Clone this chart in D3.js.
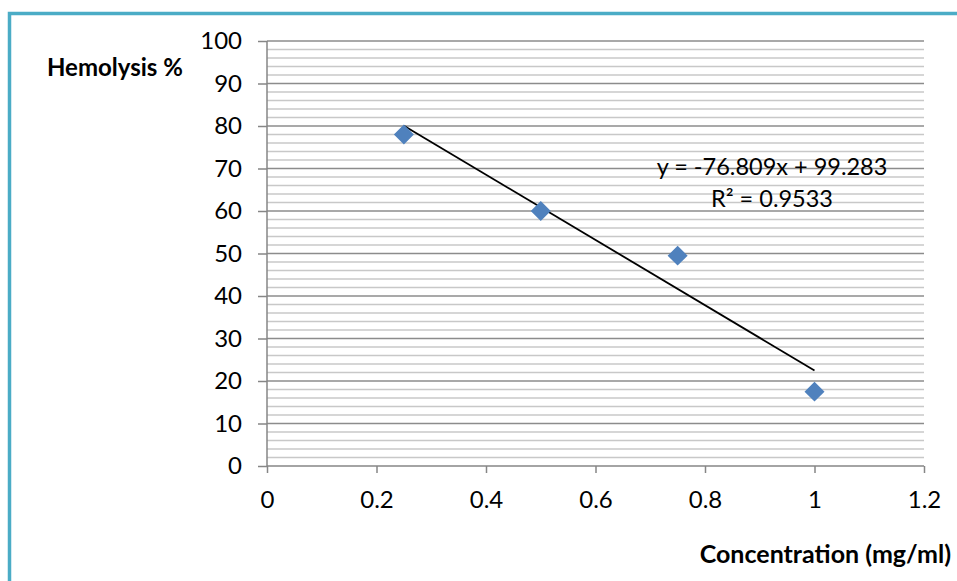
<!DOCTYPE html>
<html><head><meta charset="utf-8">
<script src="https://cdn.jsdelivr.net/npm/d3@7"></script>
<style>body{margin:0;background:#fff;} svg{display:block;}</style>
</head><body>
<svg id="chart" width="957" height="581"></svg>
<script>
const concentration = [0.25, 0.5, 0.75, 1];
const hemolysis = [78, 60, 49.5, 17.5];
const xTicks = [0, 0.2, 0.4, 0.6, 0.8, 1, 1.2];
const yTicks = [0, 10, 20, 30, 40, 50, 60, 70, 80, 90, 100];
const slope = -76.809, intercept = 99.283;
const eqText = "y = -76.809x + 99.283";
const r2Text = "R² = 0.9533";
const xTitle = "Concentration (mg/ml)";
const yTitle = "Hemolysis %";

const svg = d3.select("#chart");
const font = "Lato, 'Open Sans', sans-serif";
// frame border
svg.append("path").attr("d","M9.5,581 V13.5 H957").attr("fill","none").attr("stroke","#4BACC6").attr("stroke-width",3.5);

const x = d3.scaleLinear().domain([0,1.2]).range([267,924]);
const y = d3.scaleLinear().domain([0,100]).range([466,41]);

// minor gridlines
const minor = d3.range(2,100,2).filter(v=>v%10!==0);
svg.append("g").selectAll("line").data(minor).join("line")
  .attr("x1",x(0)).attr("x2",x(1.2)).attr("y1",d=>y(d)).attr("y2",d=>y(d))
  .attr("stroke","#c8c8c8").attr("stroke-width",1.5);
// major gridlines
svg.append("g").selectAll("line").data(yTicks.filter(v=>v>0)).join("line")
  .attr("x1",x(0)).attr("x2",x(1.2)).attr("y1",d=>y(d)).attr("y2",d=>y(d))
  .attr("stroke","#8c8c8c").attr("stroke-width",1.5);

// axes
const yAxis = d3.axisLeft(y).tickValues(yTicks).tickSize(9).tickPadding(16).tickFormat(d3.format("d"));
const gy = svg.append("g").attr("transform",`translate(${x(0)},0)`).call(yAxis);
const xAxis = d3.axisBottom(x).tickValues(xTicks).tickSize(7).tickPadding(18).tickFormat(d=>d===0?"0":String(d));
const gx = svg.append("g").attr("transform",`translate(0,${y(0)})`).call(xAxis);
[gx,gy].forEach(g=>{
  g.attr("font-size",null).attr("font-family",null);
  g.select(".domain").attr("stroke","#868686").attr("stroke-width",1.5);
  g.selectAll(".tick line").attr("stroke","#868686").attr("stroke-width",1.5);
  g.selectAll("text").attr("font-family",font).attr("font-size",24).attr("fill","#000");
});
gx.select(".domain").attr("d",`M${x(0)},0H${x(1.2)}`);
gy.select(".domain").attr("d",`M0,${y(0)}V${y(100)}`);

// trendline
svg.append("line")
  .attr("x1",x(concentration[0])).attr("y1",y(slope*concentration[0]+intercept))
  .attr("x2",x(concentration[3])).attr("y2",y(slope*concentration[3]+intercept))
  .attr("stroke","#000").attr("stroke-width",1.8);

// markers
svg.append("g").selectAll("path").data(concentration.map((c,i)=>[c,hemolysis[i]])).join("path")
  .attr("d",d3.symbol().type(d3.symbolSquare).size(200))
  .attr("transform",d=>`translate(${x(d[0])},${y(d[1])}) rotate(45)`)
  .attr("fill","#4F81BD");

// equation
svg.append("text").attr("x",772).attr("y",175).attr("text-anchor","middle")
  .attr("font-family",font).attr("font-size",23.5).text(eqText);
svg.append("text").attr("x",772).attr("y",207).attr("text-anchor","middle")
  .attr("font-family",font).attr("font-size",23.5).text(r2Text);

// titles
svg.append("text").attr("x",47).attr("y",76).attr("font-family",font).attr("font-weight","bold")
  .attr("font-size",24).text(yTitle);
svg.append("text").attr("x",951).attr("y",563).attr("text-anchor","end").attr("font-family",font).attr("font-weight","bold")
  .attr("font-size",25).text(xTitle);
</script>
</body></html>
